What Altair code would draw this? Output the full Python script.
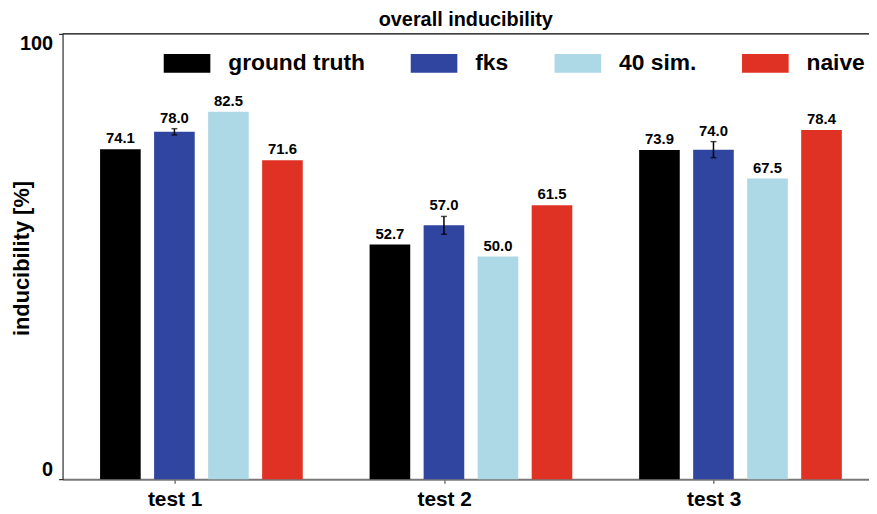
import altair as alt
import pandas as pd

tests = ["test 1", "test 2", "test 3"]
methods = ["ground truth", "fks", "40 sim.", "naive"]
ground_truth = [74.1, 52.7, 73.9]
fks = [78.0, 57.0, 74.0]
sim40 = [82.5, 50.0, 67.5]
naive = [71.6, 61.5, 78.4]
fks_err = [0.7, 2.0, 1.8]
colors = ["#000000", "#2F45A0", "#ADD8E6", "#E03224"]

rows = []
for series, vals, errs in [
    ("ground truth", ground_truth, [0, 0, 0]),
    ("fks", fks, fks_err),
    ("40 sim.", sim40, [0, 0, 0]),
    ("naive", naive, [0, 0, 0]),
]:
    for t, v, e in zip(tests, vals, errs):
        rows.append({"test": t, "method": series, "value": v, "err": e,
                     "lo": v - e, "hi": v + e})
df = pd.DataFrame(rows)

FONT = "Liberation Sans"

x_enc = alt.X(
    "test:N", sort=tests, title=None,
    scale=alt.Scale(paddingInner=0.248, paddingOuter=0.12, align=0.58),
    axis=alt.Axis(tickOffset=-27, labelAngle=0, labelFont=FONT, labelFontSize=21,
                  labelFontWeight="bold", labelColor="black", labelPadding=5,
                  domainColor="#777777", domainWidth=2, tickColor="#777777",
                  tickSize=4, tickWidth=1.5),
)
xoff = alt.XOffset("method:N", sort=methods,
                   scale=alt.Scale(paddingInner=0.248, paddingOuter=0))
y_scale = alt.Scale(domain=[0, 100], nice=False)

base = alt.Chart(df)

bars = base.mark_bar().encode(
    x=x_enc, xOffset=xoff,
    y=alt.Y("value:Q", scale=y_scale,
            axis=alt.Axis(values=[0, 100], labelFlush=True, grid=False,
                          labelFont=FONT, labelFontSize=20, labelFontWeight="bold",
                          labelColor="black", labelPadding=6, tickSize=4,
                          tickColor="black", domainColor="black",
                          title="inducibility [%]", titleFont=FONT, titleFontSize=22,
                          titleFontWeight="bold", titleColor="black",
                          titleX=-29, titleY=226)),
    color=alt.Color("method:N", sort=methods,
                    scale=alt.Scale(domain=methods, range=colors),
                    legend=alt.Legend(
                        title=None, orient="none", legendX=102, legendY=6,
                        direction="horizontal", padding=0, columnPadding=46,
                        labelOffset=18, labelFont=FONT, labelFontSize=23,
                        labelFontWeight="bold", labelColor="black",
                        symbolType="M-1,-0.4L1,-0.4L1,0.4L-1,0.4Z",
                        symbolSize=2209, symbolStrokeWidth=0, symbolOpacity=1)),
)

err = base.transform_filter(alt.datum.err > 0)
err_rule = err.mark_rule(color="black", strokeWidth=1.5).encode(
    x=x_enc, xOffset=xoff, y=alt.Y("lo:Q", scale=y_scale), y2="hi:Q")
cap_hi = err.mark_tick(color="black", thickness=1.5, size=6).encode(
    x=x_enc, xOffset=xoff, y=alt.Y("hi:Q", scale=y_scale))
cap_lo = err.mark_tick(color="black", thickness=1.5, size=6).encode(
    x=x_enc, xOffset=xoff, y=alt.Y("lo:Q", scale=y_scale))

labels = base.mark_text(baseline="bottom", dy=-3, font=FONT, fontSize=15,
                        fontWeight="bold", color="black").encode(
    x=x_enc, xOffset=xoff, y=alt.Y("hi:Q", scale=y_scale),
    text=alt.Text("value:Q", format=".1f"))

top_rule = alt.Chart(pd.DataFrame({"v": [100]})).mark_rule(
    color="black", strokeWidth=1.2).encode(y=alt.Y("v:Q", scale=y_scale))

chart = alt.layer(bars, err_rule, cap_hi, cap_lo, labels, top_rule).properties(
    width=813, height=449,
    title=alt.TitleParams("overall inducibility", font=FONT, fontSize=20,
                          fontWeight="bold", color="black", anchor="middle",
                          offset=3),
    autosize=alt.AutoSizeParams(type="none"),
    padding={"left": 55, "top": 24, "right": 0, "bottom": 32},
).configure_view(stroke=None)

chart.save("out.html", embed_options={"renderer": "svg", "actions": False})
